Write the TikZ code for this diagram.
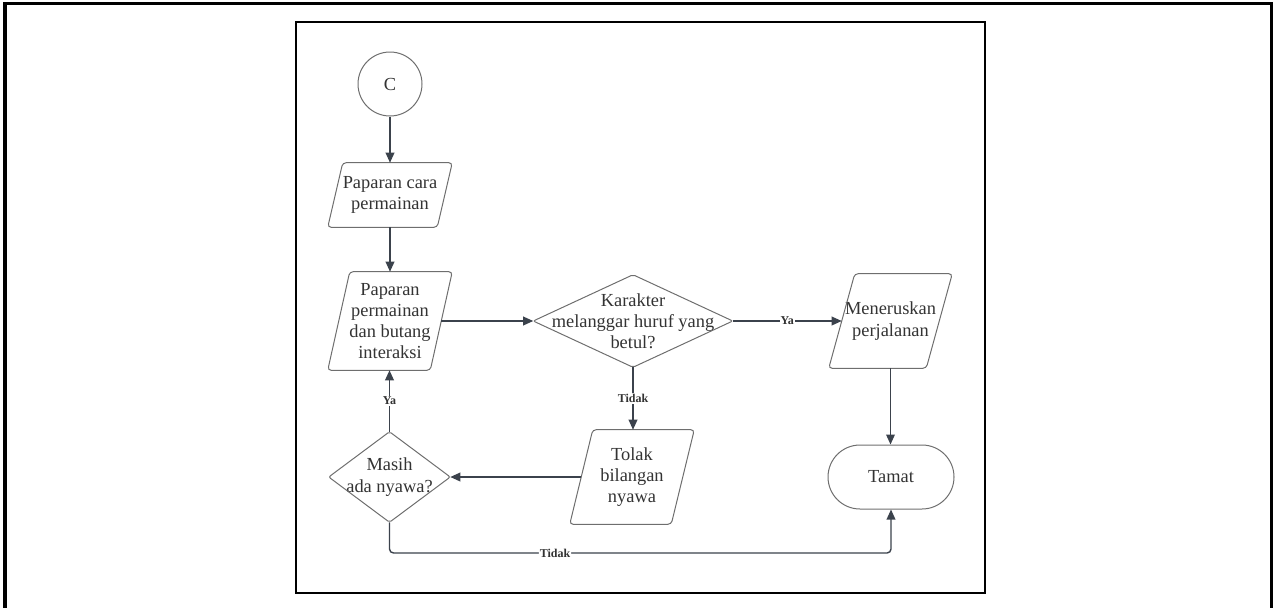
\documentclass[tikz,border=0pt]{standalone}
\usepackage{fontspec}
\setmainfont{Liberation Serif}
\usetikzlibrary{arrows.meta,calc}

\definecolor{edge}{HTML}{3B424C}
\definecolor{shapeline}{HTML}{6E6E6E}
\definecolor{ink}{HTML}{333333}

\tikzset{
  txt/.style={inner sep=0pt, align=center, text=ink,
    font=\fontsize{13.8}{15.9}\selectfont},
  shapeline/.style={draw=shapeline, line width=0.75pt},
  conn/.style={draw=edge, line width=1.05pt,
    -{Triangle[length=7.5pt,width=6.5pt]}},
  lbl/.style={fill=white, inner sep=0.6pt, text=ink,
    font=\fontsize{9}{10}\selectfont\bfseries},
}

% parallelogram: name, centre, width, height, slant, text
\newcommand\ioblock[6]{%
  \node[txt, minimum width=#3, minimum height=#4] (#1) at #2 {#6};
  \draw[shapeline, rounded corners=2.5pt]
    ([xshift=#5]#1.north west) -- (#1.north east)
    -- ([xshift=-#5]#1.south east) -- (#1.south west) -- cycle;
}
% decision diamond: name, centre, width, height, text
\newcommand\decision[5]{%
  \node[txt, minimum width=#3, minimum height=#4] (#1) at #2 {#5};
  \draw[shapeline, rounded corners=1.5pt]
    (#1.north) -- (#1.east) -- (#1.south) -- (#1.west) -- cycle;
}

\begin{document}
\begin{tikzpicture}[x=0.75pt, y=-0.75pt]
  \useasboundingbox (0,0) rectangle (1274,607);

  % frames
  \draw[line width=2.4pt, black] (5,3.6) rectangle (1271.4,640);
  \draw[line width=1.5pt, black] (295.5,21.5) rectangle (985,593);

  % nodes
  \node[txt, circle, shapeline, minimum size=48pt] (c) at (390,84) {C};
  \ioblock{p1}{(390,195)}{93pt}{48pt}{11.25pt}{Paparan cara\\permainan}
  \ioblock{p2}{(390,321)}{93pt}{73.5pt}{16.5pt}{Paparan\\permainan\\dan butang\\interaksi}
  \decision{k}{(633,321)}{149.25pt}{69pt}{Karakter\\melanggar huruf yang\\betul?}
  \ioblock{p3}{(890.5,321)}{92.25pt}{70.5pt}{19.5pt}{Meneruskan\\perjalanan}
  \ioblock{tl}{(632,477)}{93pt}{70.5pt}{17.25pt}{Tolak\\bilangan\\nyawa}
  \decision{m}{(389.5,477)}{90.75pt}{67.5pt}{Masih\\ada nyawa?}
  \node[txt, shapeline, rectangle, rounded corners=24pt,
        minimum width=94.5pt, minimum height=48pt] (t) at (891,477) {Tamat};

  \coordinate (b1) at (389.5,553);
  \coordinate (b2) at (891,553);

  % connectors
  \draw[conn] (c.south) -- (p1.north);
  \draw[conn] (p1.south) -- (p2.north);
  \draw[conn] ([xshift=-8.25pt]p2.east) -- (k.west);
  \draw[conn] (k.east) -- node[lbl]{Ya} ([xshift=9.75pt]p3.west);
  \draw[conn] (p3.south) -- (p3.south |- t.north);
  \draw[conn] (k.south) -- node[lbl]{Tidak} (k.south |- tl.north);
  \draw[conn] ([xshift=8.6pt]tl.west) -- (m.east);
  \draw[conn] (m.north) -- node[lbl]{Ya} (m.north |- p2.south);
  \draw[conn, rounded corners=3pt] (m.south) -- (b1)
     -- node[lbl, pos=0.33]{Tidak} (b2) -- (t.south);
\end{tikzpicture}
\end{document}
